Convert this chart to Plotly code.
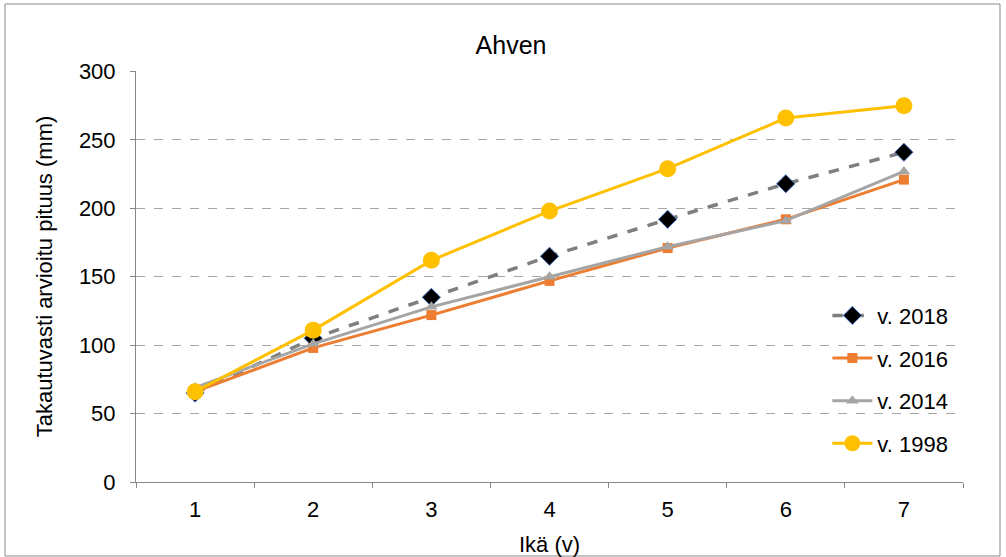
import plotly.graph_objects as go

ages = [1, 2, 3, 4, 5, 6, 7]
len_2018 = [65, 105, 135, 165, 192, 218, 241]
len_2016 = [66, 98, 122, 147, 171, 192, 221]
len_2014 = [69, 101, 128, 150, 172, 191, 227]
len_1998 = [66, 111, 162, 198, 229, 266, 275]
y_ticks = [0, 50, 100, 150, 200, 250, 300]

fig = go.Figure()
fig.add_trace(go.Scatter(
    x=ages, y=len_2018, name="v. 2018", mode="lines+markers",
    line=dict(color="#7F7F7F", width=3.5, dash="dash"),
    marker=dict(symbol="diamond", size=14, color="#000000",
                line=dict(color="#4472C4", width=1)),
    legendgroup="a"))
fig.add_trace(go.Scatter(
    x=ages, y=len_2016, name="v. 2016", mode="lines+markers",
    line=dict(color="#ED7D31", width=3),
    marker=dict(symbol="square", size=10, color="#ED7D31"),
    legendgroup="b"))
fig.add_trace(go.Scatter(
    x=ages, y=len_2014, name="v. 2014", mode="lines+markers",
    line=dict(color="#A5A5A5", width=3),
    marker=dict(symbol="triangle-up", size=11, color="#A5A5A5"),
    legendgroup="c"))
fig.add_trace(go.Scatter(
    x=ages, y=len_1998, name="v. 1998", mode="lines+markers",
    line=dict(color="#FFC000", width=3),
    marker=dict(symbol="circle", size=17, color="#FFC000"),
    legendgroup="d"))

L, R, T, B = 136, 43, 71, 75
W, H = 1006, 557
pw, ph = W - L - R, H - T - B

fig.update_layout(
    width=W, height=H,
    margin=dict(l=L, r=R, t=T, b=B),
    paper_bgcolor="white", plot_bgcolor="white",
    font=dict(family="Liberation Sans, Arial, sans-serif", size=22, color="#000000"),
    title=dict(text="Ahven", x=0.508, xanchor="center", y=0.919, yanchor="middle",
               font=dict(size=25)),
    showlegend=True,
    legend=dict(x=0.836, xanchor="left", y=0.249, yanchor="middle",
                bgcolor="rgba(0,0,0,0)", tracegroupgap=11,
                font=dict(size=22), itemwidth=40),
    xaxis=dict(type="category", range=[-0.5, 6.5], automargin=False,
               showline=True, linecolor="#868686", linewidth=1,
               ticks="outside", tickson="boundaries", ticklen=5, tickcolor="#868686",
               ticklabelstandoff=8,
               showgrid=False, zeroline=False,
               title=dict(text="Ikä (v)", standoff=18, font=dict(size=22))),
    yaxis=dict(range=[0, 300.4], tickvals=y_ticks, automargin=False,
               showline=True, linecolor="#868686", linewidth=1,
               ticks="outside", ticklen=5, tickcolor="#868686",
               ticklabelstandoff=10,
               showgrid=True, gridcolor="#A6A6A6", griddash="dash", gridwidth=1,
               zeroline=False,
               title=dict(text="Takautuvasti arvioitu pituus (mm)", standoff=20,
                          font=dict(size=22))),
    shapes=[dict(type="rect", xref="paper", yref="paper",
                 x0=(5 - L) / pw, x1=(1000 - L) / pw,
                 y0=(H - T - 560) / ph, y1=(H - T - 8) / ph,
                 line=dict(color="#898989", width=1), fillcolor="rgba(0,0,0,0)",
                 layer="below")],
)

fig.write_html("out.html")
